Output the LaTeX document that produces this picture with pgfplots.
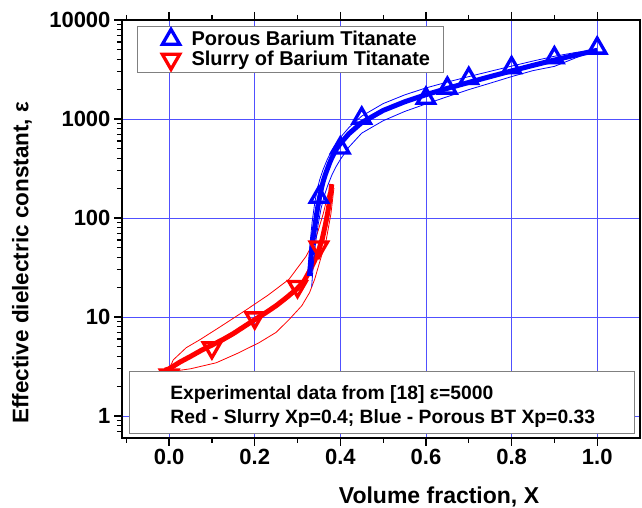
\documentclass[border=0pt]{standalone}
\usepackage{fontspec}
\setmainfont{Liberation Sans}
\usepackage{pgfplots}
\pgfplotsset{compat=1.18}
\definecolor{gridblue}{RGB}{80,80,255}
\pgfplotsset{
  bluemark/.style={only marks, mark=triangle, mark size=10pt,
    mark options={solid, draw=blue, line width=3.3pt}},
  redmark/.style={only marks, mark=triangle, mark size=10pt,
    mark options={solid, draw=red, line width=3.3pt, rotate=180}},
  boxlegend/.style={legend image code/.code={%
    \path (0pt,0pt) (40pt,0pt);
    \draw[##1] plot coordinates {(22pt,0pt)};}},
}
\begin{document}
\begin{tikzpicture}
\path[use as bounding box] (-122pt,-70pt) rectangle (520pt,438pt);
\begin{axis}[
  scale only axis, width=518pt, height=418pt,
  xmin=-0.11, xmax=1.1,
  ymode=log, ymin=0.6, ymax=10000,
  xtick={0,0.2,0.4,0.6,0.8,1.0},
  xticklabels={0.0,0.2,0.4,0.6,0.8,1.0},
  minor xtick={-0.1,0.1,0.3,0.5,0.7,0.9},
  ytick={1,10,100,1000,10000},
  yticklabels={1,10,100,1000,10000},
  minor ytick={0.7,0.8,0.9,2,3,4,5,6,7,8,9,20,30,40,50,60,70,80,90,
    200,300,400,500,600,700,800,900,2000,3000,4000,5000,6000,7000,8000,9000},
  xtick pos=both, ytick pos=left,
  tick align=outside,
  major tick length=8pt, minor tick length=5pt,
  every tick/.style={black, line width=1.2pt},
  axis line style={line width=1.3pt},
  grid=major,
  major grid style={gridblue, line width=0.8pt},
  /pgf/number format/assume math mode=true,
  ticklabel style={font=\fontsize{22}{26}\selectfont\bfseries},
  xlabel={Volume fraction, X},
  ylabel={Effective dielectric constant, ε},
  xlabel style={font=\fontsize{23}{27}\selectfont\bfseries,
    at={(axis description cs:0.612,-0.141)}, anchor=center},
  ylabel style={font=\fontsize{22.5}{27}\selectfont\bfseries,
    at={(axis description cs:-0.193,0.419)}, anchor=center},
  legend style={at={(axis description cs:0.029,0.986)}, anchor=north west,
    draw=gray, line width=1pt, fill=white,
    font=\fontsize{20}{24}\selectfont\bfseries,
    row sep=0pt, inner xsep=11pt, inner ysep=3pt},
  legend cell align=left,
]
\addlegendimage{bluemark, boxlegend}
\addlegendentry{Porous Barium Titanate}
\addlegendimage{redmark, boxlegend}
\addlegendentry{Slurry of Barium Titanate}

% red: slurry, bands and fit
\addplot[red, line width=0.8pt, forget plot] coordinates {
(0.000,3.0) (0.010,3.7) (0.040,4.9) (0.072,5.9) (0.120,8.0) (0.180,11.8)
(0.230,16.5) (0.280,24) (0.320,41) (0.344,65) (0.360,110) (0.372,180)};
\addplot[red, line width=0.8pt, forget plot] coordinates {
(0.000,2.8) (0.050,3.0) (0.110,3.45) (0.160,4.3) (0.210,5.5) (0.250,7.0)
(0.280,9.4) (0.310,13) (0.328,17.6) (0.340,24) (0.351,35) (0.367,60)
(0.378,110) (0.385,200)};
\addplot[red, line width=5pt, forget plot] coordinates {
(-0.010,2.9) (0.000,3.0) (0.025,3.5) (0.050,4.0) (0.075,4.6) (0.100,5.2) (0.125,5.9)
(0.150,6.8) (0.175,8.0) (0.200,9.4) (0.225,11.0) (0.250,13.0) (0.275,15.8)
(0.300,19.5) (0.315,23) (0.328,29) (0.340,37) (0.350,48) (0.358,62)
(0.365,85) (0.370,110) (0.375,150) (0.380,220)};
\addplot[redmark, forget plot] coordinates {
(0.0,2.6) (0.1,4.9) (0.2,9.8) (0.3,20.3) (0.35,51)};

% blue: porous, bands and fit
\addplot[blue, line width=0.8pt, forget plot] coordinates {
(0.325,30) (0.330,60) (0.334,90) (0.340,140) (0.346,195) (0.352,245)
(0.360,310) (0.370,395) (0.380,480) (0.400,650) (0.420,820) (0.450,1070)
(0.500,1430) (0.550,1750) (0.600,2060) (0.650,2360) (0.700,2680)
(0.750,3030) (0.800,3420) (0.850,3850) (0.900,4300) (0.950,4700) (1.000,5000)};
\addplot[blue, line width=0.8pt, forget plot] coordinates {
(0.333,20) (0.337,35) (0.342,55) (0.348,85) (0.355,125) (0.362,165)
(0.370,210) (0.380,270) (0.390,330) (0.400,390) (0.420,520) (0.450,720)
(0.500,960) (0.550,1190) (0.600,1420) (0.650,1680) (0.700,1980)
(0.750,2300) (0.800,2680) (0.850,3080) (0.900,3400) (0.950,4150) (1.000,4950)};
\addplot[blue, line width=5pt, forget plot] coordinates {
(0.328,26) (0.331,38) (0.334,52) (0.337,66) (0.340,80) (0.344,105)
(0.348,135) (0.352,165) (0.356,200) (0.360,235) (0.365,275) (0.370,315)
(0.375,360) (0.380,405) (0.390,490) (0.400,565) (0.420,710) (0.450,920)
(0.500,1220) (0.550,1490) (0.600,1760) (0.650,2040) (0.700,2340)
(0.750,2680) (0.800,3060) (0.850,3480) (0.900,3940) (0.950,4430) (1.000,4950)};
\addplot[bluemark, forget plot] coordinates {
(0.35,162) (0.4,510) (0.45,1020) (0.6,1620) (0.65,2050) (0.7,2570)
(0.8,3300) (0.9,4150) (1.0,5200)};

\coordinate (boxll) at (rel axis cs:0.0154,0.0096);
\coordinate (boxur) at (rel axis cs:0.99,0.158);
\coordinate (line1) at (rel axis cs:0.093,0.093);
\coordinate (line2) at (rel axis cs:0.093,0.0335);
\end{axis}
% note box, drawn over the marks
\draw[gray, line width=1pt, fill=white] (boxll) rectangle (boxur);
\node[anchor=base west, inner sep=0pt, font=\fontsize{19.3}{22}\selectfont\bfseries]
  at (line1) {Experimental data from [18] ε=5000};
\node[anchor=base west, inner sep=0pt, font=\fontsize{19.3}{22}\selectfont\bfseries]
  at (line2) {Red - Slurry Xp=0.4; Blue - Porous BT Xp=0.33};
\end{tikzpicture}
\end{document}
